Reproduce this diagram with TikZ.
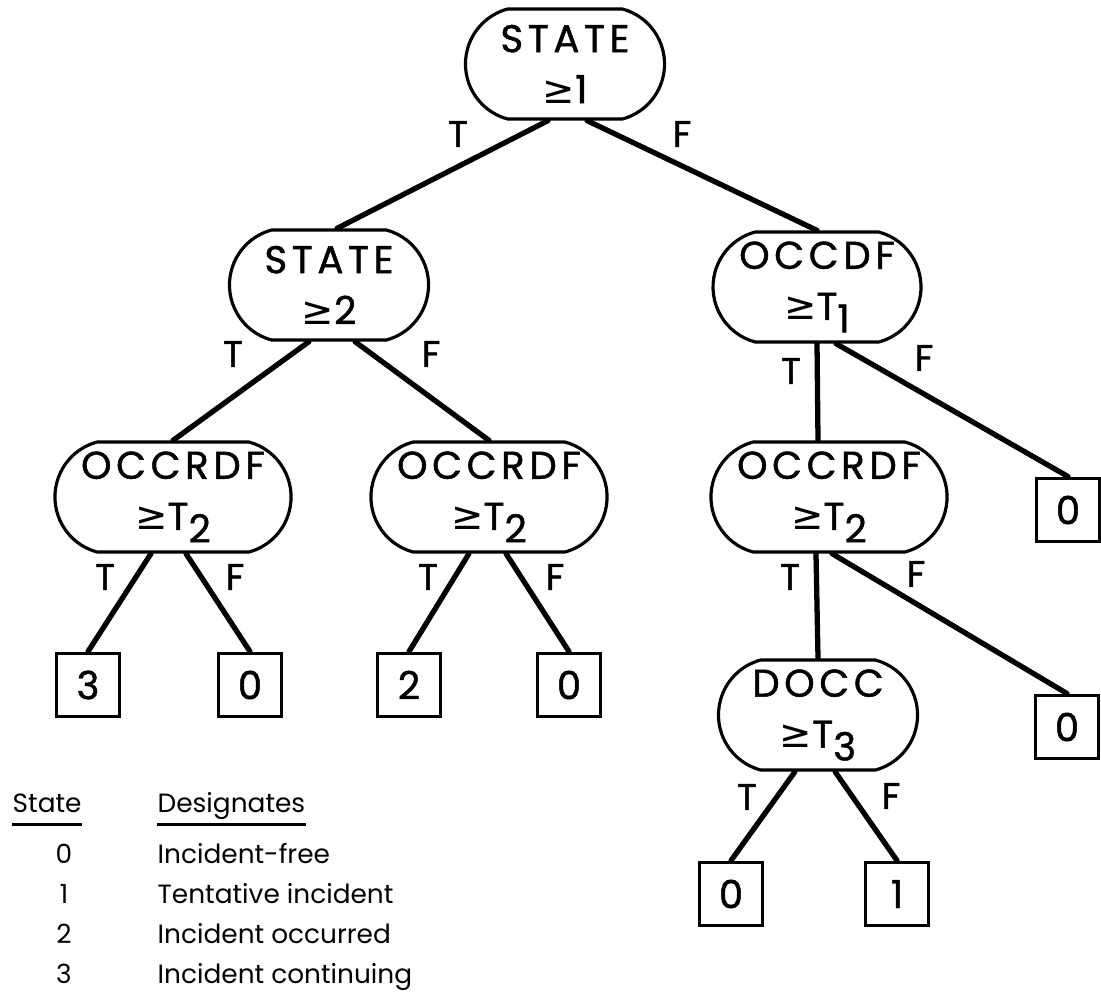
\documentclass[tikz,border=0pt]{standalone}
\usepackage{fontspec}
\setmainfont{Poppins}
\newfontfamily\symfont{DejaVu Sans}
\newfontfamily\capfont[LetterSpace=12, FakeBold=1.2]{Poppins}
\newfontfamily\markfont[FakeBold=1.2]{Poppins}
\usetikzlibrary{shapes.misc}

\newcommand{\geqs}{{\symfont ≥}}
\newcommand{\lowsub}[1]{\raisebox{-0.6ex}{#1}}

\tikzset{
  test/.style={draw, line width=0.9pt, rounded rectangle, rounded rectangle arc length=150,
    minimum width=2.06cm, minimum height=1.1cm, align=center, inner sep=1pt,
    font=\capfont\fontsize{11}{14.5}\selectfont},
  wide/.style={test, minimum width=2.3cm},
  leaf/.style={draw, line width=1.1pt, minimum size=0.63cm, inner sep=0pt,
    font=\markfont\fontsize{11}{11}\selectfont},
  lbl/.style={inner sep=0pt, font=\markfont\fontsize{10.5}{10.5}\selectfont},
  branch/.style={line width=1.5pt, line cap=round},
  legend/.style={inner sep=0pt, font=\fontsize{7.5}{7.5}\selectfont}
}

\begin{document}
\begin{tikzpicture}[x=0.01cm, y=-0.01cm]
\useasboundingbox (0,0) rectangle (1101,1000);

% tests
\node[test] (root) at (565,64) {STATE\\\geqs1};
\node[test] (st2) at (329,285) {STATE\\\geqs2};
\node[test] (occdf) at (817,287) {OCCDF\\\geqs T\lowsub{1}};
\node[wide] (ocrA) at (173,497) {OCCRDF\\\geqs T\lowsub{2}};
\node[wide] (ocrB) at (489,497) {OCCRDF\\\geqs T\lowsub{2}};
\node[wide] (ocrC) at (829,497) {OCCRDF\\\geqs T\lowsub{2}};
\node[test] (docc) at (818,715) {DOCC\\\geqs T\lowsub{3}};

% outcomes
\node[leaf] (lfA) at (88,685) {3};
\node[leaf] (lfB) at (250,685) {0};
\node[leaf] (lfC) at (409,685) {2};
\node[leaf] (lfD) at (569,685) {0};
\node[leaf] (lfE) at (1068,510) {0};
\node[leaf] (lfF) at (1067,727) {0};
\node[leaf] (lfG) at (731,894) {0};
\node[leaf] (lfH) at (897,894) {1};

% branches
\draw[branch] ([xshift=-0.17cm]root.south) -- ([xshift=0.08cm]st2.north);
\draw[branch] ([xshift=0.22cm]root.south) -- (occdf.north);
\draw[branch] ([xshift=-0.2cm]st2.south) -- (ocrA.north);
\draw[branch] ([xshift=0.26cm]st2.south) -- (ocrB.north);
\draw[branch] (occdf.south) -- ([xshift=-0.11cm]ocrC.north);
\draw[branch] ([xshift=0.19cm]occdf.south) -- (lfE.north);
\draw[branch] ([xshift=-0.22cm]ocrA.south) -- (lfA.north);
\draw[branch] ([xshift=0.13cm]ocrA.south) -- (lfB.north);
\draw[branch] ([xshift=-0.2cm]ocrB.south) -- (lfC.north);
\draw[branch] ([xshift=0.17cm]ocrB.south) -- (lfD.north);
\draw[branch] ([xshift=-0.13cm]ocrC.south) -- (docc.north);
\draw[branch] ([xshift=0.03cm]ocrC.south) -- (lfF.north);
\draw[branch] ([xshift=-0.23cm]docc.south) -- (lfG.north);
\draw[branch] ([xshift=0.17cm]docc.south) -- (lfH.north);

% T / F
\node[lbl] (rT) at (458,134) {T};
\node[lbl] (rF) at (682,134) {F};
\node[lbl] (s2T) at (233,354) {T};
\node[lbl] (s2F) at (431,354) {F};
\node[lbl] (odT) at (791,371) {T};
\node[lbl] (odF) at (924,358) {F};
\node[lbl] (aT) at (105,577) {T};
\node[lbl] (aF) at (235,577) {F};
\node[lbl] (bT) at (428,577) {T};
\node[lbl] (bF) at (555,577) {F};
\node[lbl] (cT) at (790,577) {T};
\node[lbl] (cF) at (916,574) {F};
\node[lbl] (dT) at (747,797) {T};
\node[lbl] (dF) at (891,796) {F};

% key
\node[legend, anchor=base west] (hState) at (12,812) {State};
\node[legend, anchor=base west] (hDesig) at (157,812) {Designates};
\draw[line width=0.8pt] ([yshift=-3.5pt]hState.base west) -- ([yshift=-3.5pt]hState.base east);
\draw[line width=0.8pt] ([yshift=-3.5pt]hDesig.base west) -- ([yshift=-3.5pt]hDesig.base east);
\foreach \s/\txt [count=\i] in {0/Incident-free, 1/Tentative incident, 2/Incident occurred, 3/Incident continuing}{
  \node[legend, anchor=base] (num\s) at (64,{823+40*\i}) {\s};
  \node[legend, anchor=base west] (des\s) at (157,{823+40*\i}) {\txt};
}
\end{tikzpicture}
\end{document}
